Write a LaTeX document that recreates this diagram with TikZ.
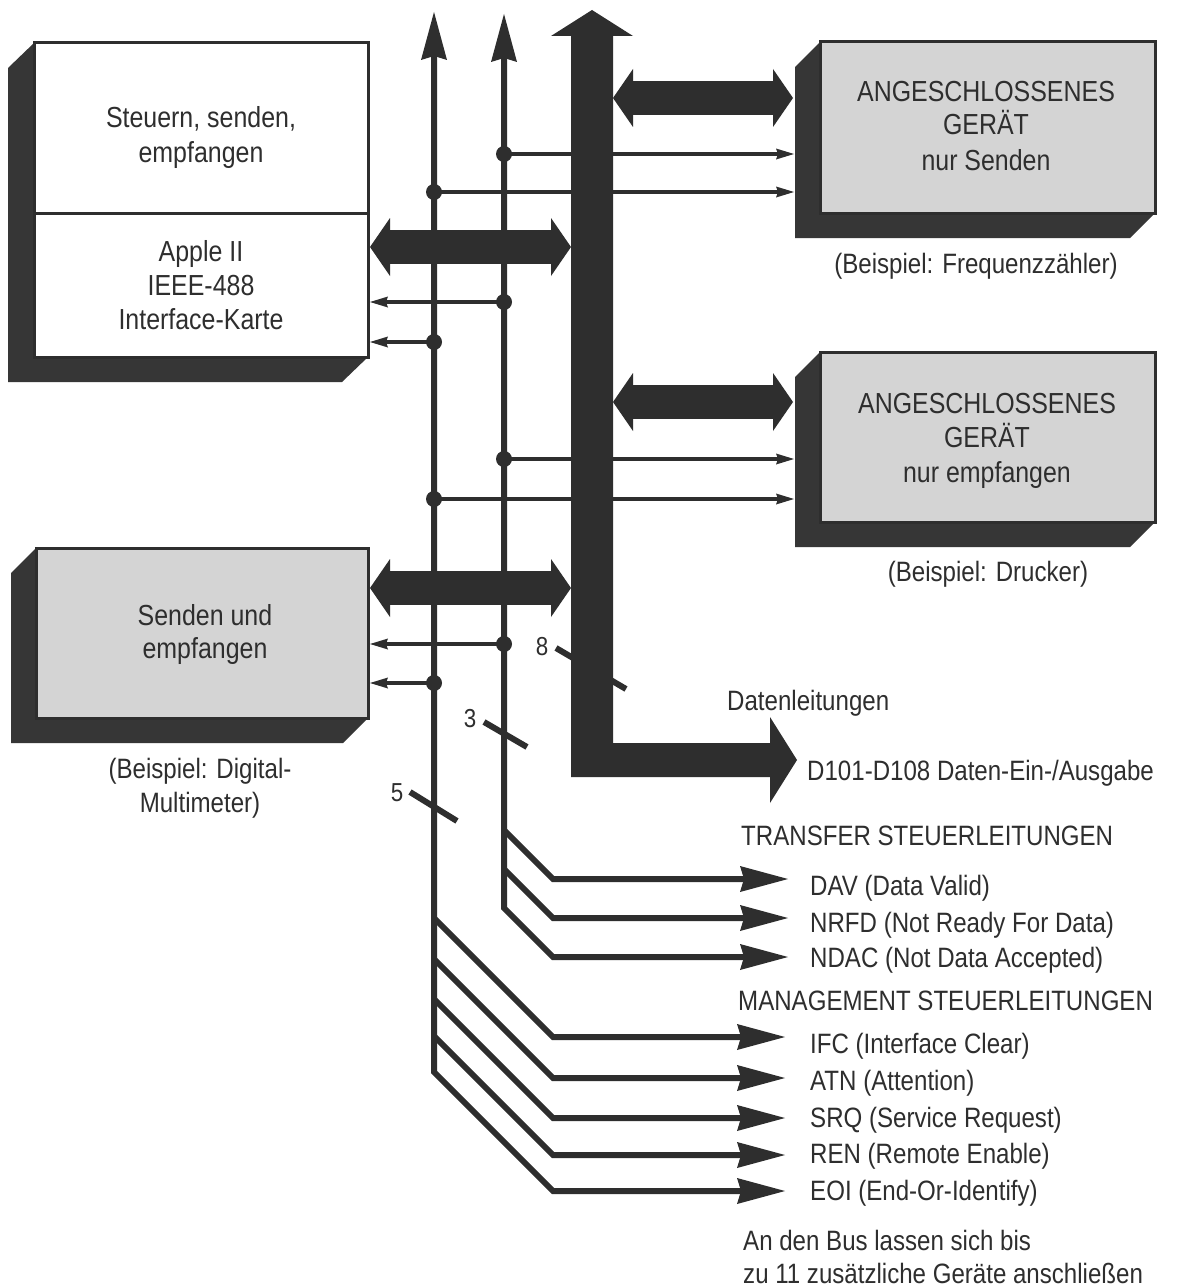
\documentclass[tikz,border=0pt]{standalone}
\usepackage{fontspec}
\setmainfont{Liberation Sans}[FakeStretch=0.86]
\usetikzlibrary{arrows.meta,calc}
\definecolor{ink}{HTML}{2E2E2E}
\definecolor{shadowc}{HTML}{363636}
\definecolor{boxgray}{HTML}{D4D4D4}
\pgfdeclarelayer{back}
\pgfsetlayers{back,main}
\tikzset{
  frontbox/.style={draw=ink, line width=3pt, inner sep=0pt, outer sep=0pt},
  txt/.style={text=ink, inner sep=0pt, font=\fontsize{28}{34}\selectfont},
  boxtxt/.style={txt, anchor=base, font=\fontsize{29}{34}\selectfont},
  sidetxt/.style={txt, anchor=base west},
  numtxt/.style={txt, anchor=center, font=\fontsize{26}{30}\selectfont},
  busline/.style={draw=ink, line width=6pt},
  bigtip/.style={-{Stealth[length=48pt,width=26pt,inset=4pt,line width=0pt]}},
  bigtips/.style={{Stealth[length=48pt,width=26pt,inset=4pt,line width=0pt]}-{Stealth[length=48pt,width=26pt,inset=4pt,line width=0pt]}},
  tapline/.style={draw=ink, line width=4.5pt, -{Stealth[length=18pt,width=11pt,inset=2pt,line width=0pt]}},
  dbl/.style={draw=ink, line width=34pt, {Triangle[length=20pt,width=58pt,line width=0pt]}-{Triangle[length=20pt,width=58pt,line width=0pt]}},
  jdot/.style={circle, fill=ink, inner sep=0pt, minimum size=16pt},
  slashmark/.style={draw=ink, line width=6pt},
  extrude/.style={fill=shadowc},
}
\begin{document}
\begin{tikzpicture}[x=1pt,y=-1pt]
\useasboundingbox (0,0) rectangle (1179,1287);

% ---------- boxes ----------
\node[frontbox, fill=white,   minimum width=334pt, minimum height=314pt] (ctl) at (201,200) {};
\node[frontbox, fill=boxgray, minimum width=332pt, minimum height=170pt] (dmm) at (202,633) {};
\node[frontbox, fill=boxgray, minimum width=335pt, minimum height=171pt] (frq) at (987.5,127.5) {};
\node[frontbox, fill=boxgray, minimum width=335pt, minimum height=170pt] (prn) at (987.5,437) {};

\begin{pgfonlayer}{back}
  \fill[white] (0,0) rectangle (1179,1287);
  \foreach \b/\dx in {ctl/-26,dmm/-25,frq/-25,prn/-25}{
    \path[extrude] (\b.north west) -- ++(\dx,25) -- ($(\b.south west)+(\dx,25)$)
      -- ($(\b.south east)+(\dx,25)$) -- (\b.south east) -- (\b.north east) -- cycle;
  }
\end{pgfonlayer}

\coordinate (dvy) at (0,213);
\draw[draw=ink, line width=3pt] (ctl.west |- dvy) -- (ctl.east |- dvy);

% box texts
\node[boxtxt] (c1) at (201,128) {Steuern, senden,};
\node[boxtxt] (c2) at (201,162) {empfangen};
\node[boxtxt] (c3) at (201,261) {Apple II};
\node[boxtxt] (c4) at (201,295) {IEEE-488};
\node[boxtxt] (c5) at (201,329) {Interface-Karte};

\node[boxtxt] (f1) at (986,102) {ANGESCHLOSSENES};
\node[boxtxt] (f2) at (986,135) {GERÄT};
\node[boxtxt] (f3) at (986,170) {nur Senden};

\node[boxtxt] (p1) at (987,413) {ANGESCHLOSSENES};
\node[boxtxt] (p2) at (987,447) {GERÄT};
\node[boxtxt] (p3) at (987,482) {nur empfangen};

\node[boxtxt] (d1) at (205,625) {Senden und};
\node[boxtxt] (d2) at (205,658) {empfangen};

% captions
\node[boxtxt, font=\fontsize{28}{34}\selectfont] (cf) at (976,273) {(Beispiel: Frequenzzähler)};
\node[boxtxt, font=\fontsize{28}{34}\selectfont] (cp) at (988,581) {(Beispiel: Drucker)};
\node[boxtxt, font=\fontsize{28}{34}\selectfont] (cd1) at (200,778) {(Beispiel: Digital-};
\node[boxtxt, font=\fontsize{28}{34}\selectfont] (cd2) at (200,812) {Multimeter)};

% ---------- control lines ----------
\coordinate (l1top) at (434,12);
\coordinate (l2top) at (504,14);

% transfer bundle (3)
\coordinate (t1s) at (504,830);  \coordinate (t1b) at (553,879);  \coordinate (t1e) at (788,879);
\coordinate (t2s) at (504,869);  \coordinate (t2b) at (553,918);  \coordinate (t2e) at (788,918);
\coordinate (t3s) at (504,908);  \coordinate (t3b) at (553,957);  \coordinate (t3e) at (788,957);
\draw[busline,bigtips] (t3e) -- (t3b) -- (t3s) -- (l2top);
\draw[busline,bigtip] (t1s) -- (t1b) -- (t1e);
\draw[busline,bigtip] (t2s) -- (t2b) -- (t2e);

% management bundle (5)
\coordinate (m1s) at (434,918);  \coordinate (m1b) at (553,1037); \coordinate (m1e) at (785,1037);
\coordinate (m2s) at (434,959);  \coordinate (m2b) at (553,1078); \coordinate (m2e) at (785,1078);
\coordinate (m3s) at (434,999);  \coordinate (m3b) at (553,1118); \coordinate (m3e) at (785,1118);
\coordinate (m4s) at (434,1036); \coordinate (m4b) at (553,1155); \coordinate (m4e) at (785,1155);
\coordinate (m5s) at (434,1072); \coordinate (m5b) at (553,1191); \coordinate (m5e) at (785,1191);
\draw[busline,bigtips] (m5e) -- (m5b) -- (m5s) -- (l1top);
\draw[busline,bigtip] (m1s) -- (m1b) -- (m1e);
\draw[busline,bigtip] (m2s) -- (m2b) -- (m2e);
\draw[busline,bigtip] (m3s) -- (m3b) -- (m3e);
\draw[busline,bigtip] (m4s) -- (m4b) -- (m4e);

% junction taps
\coordinate (frqS) at ($(frq.north west)+(-25,0)$);
\coordinate (prnS) at ($(prn.north west)+(-25,0)$);
\coordinate (ja) at (504,154);
\coordinate (jb) at (434,192);
\coordinate (jc) at (504,302);
\coordinate (jd) at (434,342);
\coordinate (je) at (504,459);
\coordinate (jf) at (434,499);
\coordinate (jg) at (504,644);
\coordinate (jh) at (434,683);
\draw[tapline] (ja) -- ($(frqS |- ja)+(-1,0)$);
\draw[tapline] (jb) -- ($(frqS |- jb)+(-1,0)$);
\draw[tapline] (je) -- ($(prnS |- je)+(-1,0)$);
\draw[tapline] (jf) -- ($(prnS |- jf)+(-1,0)$);
\draw[tapline] (jc) -- ($(ctl.east |- jc)+(2,0)$);
\draw[tapline] (jd) -- ($(ctl.east |- jd)+(2,0)$);
\draw[tapline] (jg) -- ($(dmm.east |- jg)+(2,0)$);
\draw[tapline] (jh) -- ($(dmm.east |- jh)+(2,0)$);
\foreach \j in {ja,jb,jc,jd,je,jf,jg,jh}{
  \node[jdot] (dot\j) at (\j) {};
}

% ---------- data bus ----------
\fill[ink] (571,36) -- (551,36) -- (592,10) -- (633,36) -- (613,36) -- (613,743)
  -- (770,743) -- (770,717) -- (797,760) -- (770,803) -- (770,777) -- (571,777) -- cycle;
\coordinate (busL) at (571,0);
\coordinate (busR) at (613,0);

% double arrows
\coordinate (da) at (0,247);
\coordinate (db) at (0,588);
\coordinate (dc) at (0,98);
\coordinate (dd) at (0,402);
\draw[dbl] ($(ctl.east |- da)+(2,0)$) -- (busL |- da);
\draw[dbl] ($(dmm.east |- db)+(2,0)$) -- (busL |- db);
\draw[dbl] (busR |- dc) -- ($(frqS |- dc)+(-2,0)$);
\draw[dbl] (busR |- dd) -- ($(prnS |- dd)+(-2,0)$);

% bundle width marks
\coordinate (s8a) at (556,648); \coordinate (s8b) at (626,689);
\coordinate (s3a) at (484,722); \coordinate (s3b) at (527,747);
\coordinate (s5a) at (410,792); \coordinate (s5b) at (457,821);
\draw[slashmark] (s8a) -- (s8b);
\draw[slashmark] (s3a) -- (s3b);
\draw[slashmark] (s5a) -- (s5b);
\node[numtxt] (n8) at (542,647) {8};
\node[numtxt] (n3) at (470,719) {3};
\node[numtxt] (n5) at (397,793) {5};

% ---------- right-hand labels ----------
\node[sidetxt] (datl) at (727,710) {Datenleitungen};
\node[sidetxt] (dio)  at (807,780) {D101-D108 Daten-Ein-/Ausgabe};
\node[sidetxt] (trh)  at (741,845) {TRANSFER STEUERLEITUNGEN};
\node[sidetxt] (dav)  at (810,895) {DAV (Data Valid)};
\node[sidetxt] (nrfd) at (810,932) {NRFD (Not Ready For Data)};
\node[sidetxt] (ndac) at (810,967) {NDAC (Not Data Accepted)};
\node[sidetxt] (mgh)  at (738,1010) {MANAGEMENT STEUERLEITUNGEN};
\node[sidetxt] (ifc)  at (810,1053) {IFC (Interface Clear)};
\node[sidetxt] (atn)  at (810,1090) {ATN (Attention)};
\node[sidetxt] (srq)  at (810,1127) {SRQ (Service Request)};
\node[sidetxt] (ren)  at (810,1163) {REN (Remote Enable)};
\node[sidetxt] (eoi)  at (810,1200) {EOI (End-Or-Identify)};
\node[sidetxt] (nt1)  at (743,1250) {An den Bus lassen sich bis};
\node[sidetxt] (nt2)  at (743,1283) {zu 11 zusätzliche Geräte anschließen};
\end{tikzpicture}
\end{document}
